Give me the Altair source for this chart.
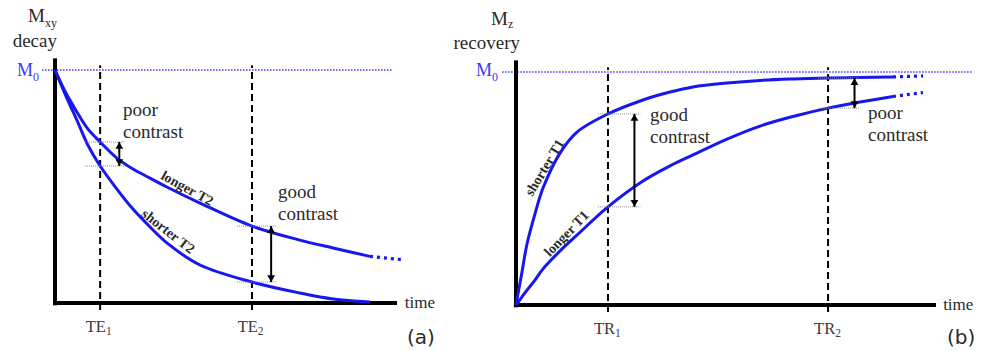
import altair as alt
import pandas as pd

# ---------------- panel (a): transverse magnetisation decay ----------------
A_T = [0.0, 0.32, 0.64, 0.96, 1.32, 1.81, 2.28, 2.78, 3.27, 4.24, 5.76, 7.16, 8.13, 9.21]
A_LONGER_T2 = [1.0, 0.901, 0.820, 0.747, 0.691, 0.622, 0.575, 0.536, 0.498, 0.429,
               0.330, 0.270, 0.236, 0.200]
A_SHORTER_T2 = [1.0, 0.888, 0.785, 0.678, 0.588, 0.489, 0.403, 0.326, 0.258, 0.163,
                0.090, 0.043, 0.017, 0.004]
A_TAIL_T = [9.21, 10.2]
A_TAIL_LONGER = [0.200, 0.185]
A_TE = [1.32, 5.76]
A_TE_SUB = ["1", "2"]
A_CONTRAST = ["poor", "good"]

# ---------------- panel (b): longitudinal magnetisation recovery ----------------
B_T = [0.0, 0.143, 0.262, 0.452, 0.643, 1.048, 1.452, 2.19, 3.024, 3.667, 4.214,
       5.024, 5.81, 6.595, 7.43, 8.19, 8.976]
B_SHORTER_T1 = [0.0, 0.142, 0.262, 0.391, 0.502, 0.652, 0.742, 0.820, 0.880, 0.914,
                0.936, 0.953, 0.964, 0.970, 0.974, 0.976, 0.979]
B_LONGER_T1 = [0.0, 0.035, 0.064, 0.107, 0.155, 0.232, 0.300, 0.421, 0.532, 0.597,
               0.644, 0.712, 0.768, 0.809, 0.845, 0.871, 0.895]
B_TAIL_T = [8.976, 9.69]
B_TAIL_SHORTER = [0.979, 0.983]
B_TAIL_LONGER = [0.895, 0.912]
B_TR = [2.19, 7.43]
B_TR_SUB = ["1", "2"]
B_CONTRAST = ["good", "poor"]

BLUE = "#1717ee"
M0_BLUE = "#3a3af5"
INK = "#2a2a2a"
SERIF = "'Liberation Serif', 'Times New Roman', Times, serif"
SANS = "'DejaVu Sans', Verdana, sans-serif"


def scales(x_range, y_range):
    xs = alt.Scale(domain=[0, 10], range=x_range, nice=False, zero=False)
    ys = alt.Scale(domain=[0, 1], range=y_range, nice=False, zero=False)
    return xs, ys


def text_layer(xs, ys, ts, ms, labels, **style):
    df = pd.DataFrame({"t": ts, "m": ms, "label": labels})
    return alt.Chart(df).mark_text(baseline="middle", **style).encode(
        x=alt.X("t:Q", scale=xs, axis=None),
        y=alt.Y("m:Q", scale=ys, axis=None),
        text="label:N",
    )


def panel(xs, ys, t, curves, tails, probes, probe_name, probe_sub, level_span, arrow_dt,
          m0_span, y_title, y_sub, y_word, y_label_t, contrast_words, contrast_pos,
          curve_labels, time_t, tag, tag_pos):
    X = lambda f: alt.X(f"{f}:Q", scale=xs, axis=None)
    Y = lambda f: alt.Y(f"{f}:Q", scale=ys, axis=None)
    layers = []

    # M0 reference level
    m0 = pd.DataFrame({"t0": [m0_span[0]], "t1": [m0_span[1]], "m": [1.0]})
    layers.append(alt.Chart(m0).mark_rule(color=M0_BLUE, strokeWidth=1.3, strokeDash=[1.5, 1.5])
                  .encode(x=X("t0"), x2="t1", y=Y("m")))

    # dashed sampling times
    pr = pd.DataFrame({"t": probes, "lo": [-0.03] * len(probes), "hi": [1.02] * len(probes)})
    layers.append(alt.Chart(pr).mark_rule(color="black", strokeWidth=2, strokeDash=[7, 4])
                  .encode(x=X("t"), y=Y("lo"), y2="hi"))

    # axes
    yax = pd.DataFrame({"t": [0.0], "lo": [-0.01], "hi": [1.05]})
    layers.append(alt.Chart(yax).mark_rule(color="black", strokeWidth=4)
                  .encode(x=X("t"), y=Y("lo"), y2="hi"))
    xax = pd.DataFrame({"t0": [-0.05], "t1": [10.0], "m": [0.0]})
    layers.append(alt.Chart(xax).mark_rule(color="black", strokeWidth=4)
                  .encode(x=X("t0"), x2="t1", y=Y("m")))

    # signal curves
    rows = []
    for name, vals in curves.items():
        rows += [{"curve": name, "t": a, "m": b} for a, b in zip(t, vals)]
    cdf = pd.DataFrame(rows)
    layers.append(alt.Chart(cdf).mark_line(color=BLUE, strokeWidth=3, interpolate="catmull-rom")
                  .encode(x=X("t"), y=Y("m"), detail="curve:N"))
    trows = []
    for name, (tt, vals) in tails.items():
        trows += [{"curve": name, "t": a, "m": b} for a, b in zip(tt, vals)]
    tdf = pd.DataFrame(trows)
    layers.append(alt.Chart(tdf).mark_line(color=BLUE, strokeWidth=3.2, strokeDash=[3, 4])
                  .encode(x=X("t"), y=Y("m"), detail="curve:N"))

    # contrast levels at each sampling time
    lv_rows, ar_rows = [], []
    for p in probes:
        i = t.index(p)
        levels = [vals[i] for vals in curves.values()]
        for lv in levels:
            lv_rows.append({"t0": p - level_span[0], "t1": p + level_span[1], "m": lv})
        ar_rows.append({"t": p + arrow_dt, "hi": max(levels), "lo": min(levels)})
    lvdf = pd.DataFrame(lv_rows)
    layers.append(alt.Chart(lvdf).mark_rule(color="#8a8a8a", strokeWidth=1, strokeDash=[1, 1])
                  .encode(x=X("t0"), x2="t1", y=Y("m")))
    adf = pd.DataFrame(ar_rows)
    layers.append(alt.Chart(adf).mark_rule(color="black", strokeWidth=2)
                  .encode(x=X("t"), y=Y("lo"), y2="hi"))
    layers.append(alt.Chart(adf).mark_point(shape="triangle-up", filled=True, size=60,
                                            color="black", opacity=1, yOffset=3.5)
                  .encode(x=X("t"), y=Y("hi")))
    layers.append(alt.Chart(adf).mark_point(shape="triangle-down", filled=True, size=60,
                                            color="black", opacity=1, yOffset=-3.5)
                  .encode(x=X("t"), y=Y("lo")))

    # tick labels under the sampling times
    sub_t = [p + 0.17 for p in probes]
    layers.append(text_layer(xs, ys, sub_t, [-0.103] * len(probes), [probe_name] * len(probes),
                             font=SERIF, fontSize=16.5, color="#3a3a3a", align="right"))
    layers.append(text_layer(xs, ys, sub_t, [-0.125] * len(probes), probe_sub,
                             font=SERIF, fontSize=11.5, color="#3a3a3a", align="left"))

    # y-axis title with subscript
    yt, ym = y_label_t
    layers.append(text_layer(xs, ys, [yt[0]], [ym[0]], [y_title],
                             font=SERIF, fontSize=19, color=INK, align="right"))
    layers.append(text_layer(xs, ys, [yt[0]], [ym[1]], [y_sub],
                             font=SERIF, fontSize=12, color=INK, align="left"))
    layers.append(text_layer(xs, ys, [yt[1]], [1.124], [y_word],
                             font=SERIF, fontSize=19, color=INK, align="right"))
    # M0 label
    layers.append(text_layer(xs, ys, [yt[2]], [ym[2]], ["M"],
                             font=SERIF, fontSize=18, color=M0_BLUE, align="right"))
    layers.append(text_layer(xs, ys, [yt[2]], [ym[2] - 0.025], ["0"],
                             font=SERIF, fontSize=12, color=M0_BLUE, align="left"))

    # contrast annotations
    for word, (ct, cm) in zip(contrast_words, contrast_pos):
        layers.append(text_layer(xs, ys, [ct, ct], [cm, cm - 0.095], [word, "contrast"],
                                 font=SERIF, fontSize=19, color=INK, align="left"))

    # curve labels along the lines
    for label, (ct, cm, ang) in curve_labels.items():
        layers.append(text_layer(xs, ys, [ct], [cm], [label], font=SERIF, fontSize=14,
                                 fontWeight="bold", color=INK, align="center", angle=ang))

    layers.append(text_layer(xs, ys, [time_t], [0.0], ["time"],
                             font=SERIF, fontSize=17, color=INK, align="left"))
    layers.append(text_layer(xs, ys, [tag_pos[0]], [tag_pos[1]], [tag],
                             font=SANS, fontSize=20, color=INK, align="center"))
    return alt.layer(*layers)


xa, ya = scales([55, 397], [303, 70])
panel_a = panel(
    xa, ya, A_T,
    {"longer T2": A_LONGER_T2, "shorter T2": A_SHORTER_T2},
    {"longer T2": (A_TAIL_T, A_TAIL_LONGER)},
    A_TE, "TE", A_TE_SUB, (0.44, 0.70), 0.56,
    (-0.38, 9.88), "M", "xy", "decay", ((-0.292, 0.058, -0.643), (1.230, 1.200, 0.994)),
    A_CONTRAST, [(1.99, 0.828), (6.52, 0.476)],
    {"longer T2": (3.86, 0.490, 29), "shorter T2": (3.30, 0.306, 38)},
    10.23, "(a)", (10.70, -0.150),
)

xb, yb = scales([516, 936], [305, 72])
panel_b = panel(
    xb, yb, B_T,
    {"shorter T1": B_SHORTER_T1, "longer T1": B_LONGER_T1},
    {"shorter T1": (B_TAIL_T, B_TAIL_SHORTER), "longer T1": (B_TAIL_T, B_TAIL_LONGER)},
    B_TR, "TR", B_TR_SUB, (0.24, 0.77), 0.63,
    (-0.33, 10.88), "M", "z", "recovery", ((-0.19, 0.095, -0.571), (1.228, 1.205, 1.004)),
    B_CONTRAST, [(3.19, 0.815), (8.38, 0.824)],
    {"shorter T1": (0.69, 0.588, 301), "longer T1": (1.21, 0.305, 314)},
    10.17, "(b)", (10.6, -0.142),
)

chart = (
    alt.layer(panel_a, panel_b)
    .resolve_scale(x="independent", y="independent")
    .properties(width=983, height=351, padding=0, background="white",
                autosize=alt.AutoSizeParams(type="none"))
    .configure_view(stroke=None)
)

chart.save("out.html", embed_options={"renderer": "svg", "actions": False})
